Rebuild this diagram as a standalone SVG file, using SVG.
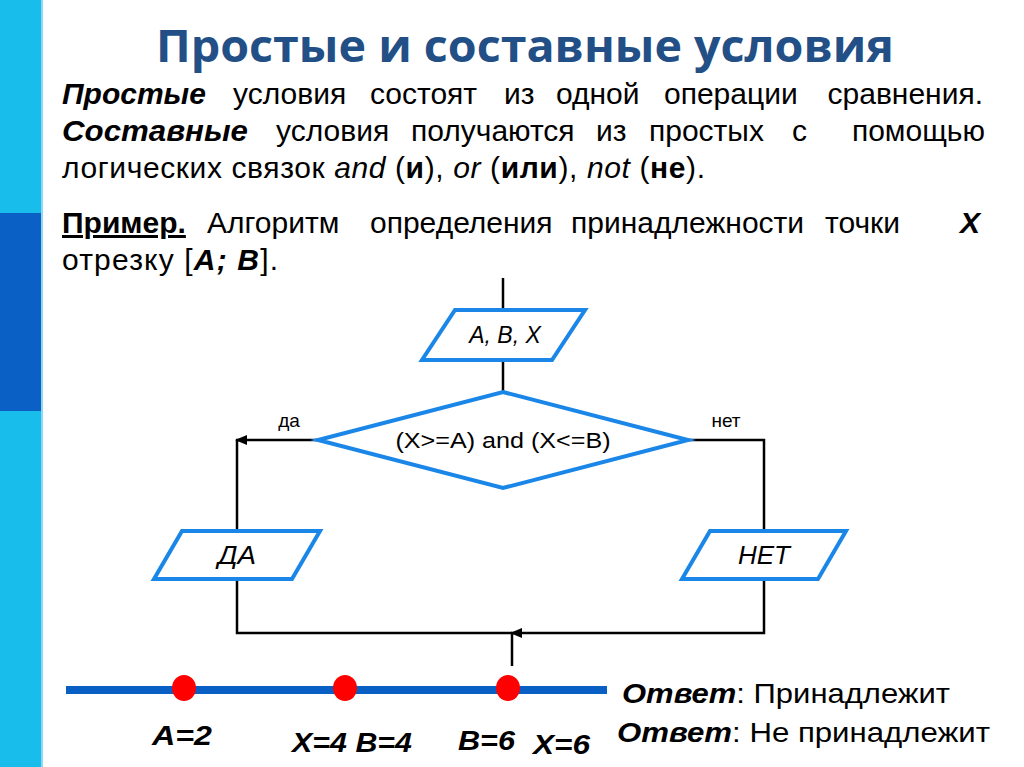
<svg xmlns="http://www.w3.org/2000/svg" width="1024" height="767" viewBox="0 0 1024 767">
<defs>
<marker id="arr" viewBox="0 0 12 10" refX="11" refY="5" markerWidth="12" markerHeight="10" orient="auto" markerUnits="userSpaceOnUse">
<path d="M0,0 L12,5 L0,10 z" fill="#000"/>
</marker>
<style>
.t{font-family:"Liberation Sans",Arial,sans-serif;font-size:30px;fill:#000}
.bi{font-weight:bold;font-style:italic}
.b{font-weight:bold}
.i{font-style:italic}
.shape{fill:#fff;stroke:#1a86e8;stroke-width:4;stroke-linejoin:miter}
.con{fill:none;stroke:#000;stroke-width:2.5}
.fc{font-family:"Liberation Sans",Arial,sans-serif;fill:#000}
.nar{font-family:"Liberation Sans Narrow","Liberation Sans",Arial,sans-serif;fill:#000}
</style>
</defs>
<rect x="0" y="0" width="1024" height="767" fill="#fff"/>
<rect x="0" y="0" width="41" height="213" fill="#19bdec"/>
<rect x="0" y="213" width="41" height="198" fill="#0a60c4"/>
<rect x="0" y="411" width="41" height="356" fill="#19bdec"/>
<rect x="41" y="0" width="2" height="767" fill="#8fd8f3"/>

<text x="525" y="62" text-anchor="middle" font-family="'Open Sans','Liberation Sans',sans-serif" font-weight="bold" font-size="44" fill="#234f87" textLength="738" lengthAdjust="spacingAndGlyphs">Простые и составные условия</text>

<g class="t">
<text x="62" y="104" class="bi">Простые</text>
<text x="233" y="104">условия</text>
<text x="370" y="104">состоят</text>
<text x="504" y="104">из</text>
<text x="556" y="104">одной</text>
<text x="664" y="104">операции</text>
<text x="983" y="104" text-anchor="end">сравнения.</text>

<text x="62" y="141" class="bi" textLength="186" lengthAdjust="spacingAndGlyphs">Составные</text>
<text x="276" y="141">условия</text>
<text x="411" y="141">получаются</text>
<text x="596" y="141">из</text>
<text x="649" y="141">простых</text>
<text x="792" y="141">с</text>
<text x="985" y="141" text-anchor="end">помощью</text>

<text x="62" y="178" textLength="643" lengthAdjust="spacing">логических связок <tspan class="i">and</tspan> (<tspan class="b">и</tspan>), <tspan class="i">or</tspan> (<tspan class="b">или</tspan>), <tspan class="i">not</tspan> (<tspan class="b">не</tspan>).</text>

<text x="62" y="233" class="b" text-decoration="underline">Пример.</text>
<text x="207" y="233">Алгоритм</text>
<text x="370" y="233">определения</text>
<text x="571" y="233">принадлежности</text>
<text x="825" y="233">точки</text>
<text x="980" y="233" class="bi" text-anchor="end">X</text>

<text x="62" y="270" textLength="216" lengthAdjust="spacing">отрезку [<tspan class="bi">A; B</tspan>].</text>
</g>

<g id="connectors">
<line class="con" x1="503" y1="278" x2="503" y2="310"/>
<line class="con" x1="503" y1="360" x2="503" y2="392"/>
<line class="con" x1="318" y1="440" x2="236" y2="440" marker-end="url(#arr)"/>
<line class="con" x1="237" y1="440" x2="237" y2="531"/>
<polyline class="con" points="688,440 764,440 764,531"/>
<polyline class="con" points="237,579 237,633 512,633"/>
<polyline class="con" points="764,579 764,633 511,633" marker-end="url(#arr)"/>
<line class="con" x1="512" y1="633" x2="512" y2="666"/>
<text class="fc" x="289" y="427" font-size="19" text-anchor="middle">да</text>
<text class="fc" x="726" y="427" font-size="19" text-anchor="middle">нет</text>
</g>

<g id="input">
<polygon class="shape" points="455,310 585,310 552,360 422,360"/>
<text class="fc i" x="505" y="343" font-size="23" text-anchor="middle">A, B, X</text>
</g>

<g id="decision">
<polygon class="shape" points="503,392 688,440 503,488 318,440"/>
<text class="fc" x="503" y="448" font-size="22" text-anchor="middle" textLength="215" lengthAdjust="spacingAndGlyphs">(X&gt;=A) and (X&lt;=B)</text>
</g>

<g id="yes">
<polygon class="shape" points="182,531 320,531 292,579 154,579"/>
<text class="nar i" x="218" y="564" font-size="26" textLength="38" lengthAdjust="spacingAndGlyphs">ДА</text>
</g>

<g id="no">
<polygon class="shape" points="710,531 846,531 818,579 682,579"/>
<text class="nar i" x="738" y="564" font-size="26" textLength="52" lengthAdjust="spacingAndGlyphs">НЕТ</text>
</g>

<g id="numberline">
<line x1="66" y1="690" x2="607" y2="690" stroke="#0a5fc4" stroke-width="8"/>
<ellipse cx="184" cy="688" rx="12" ry="13" fill="#ff0000"/>
<ellipse cx="345" cy="688" rx="12" ry="13" fill="#ff0000"/>
<ellipse cx="508" cy="688" rx="12" ry="13" fill="#ff0000"/>
</g>

<g class="nar bi" font-size="27" font-weight="bold" font-style="italic">
<text x="152" y="745" textLength="60" lengthAdjust="spacingAndGlyphs">A=2</text>
<text x="292" y="752" textLength="120" lengthAdjust="spacingAndGlyphs">X=4 B=4</text>
<text x="458" y="750" textLength="57" lengthAdjust="spacingAndGlyphs">B=6</text>
<text x="533" y="754" textLength="57" lengthAdjust="spacingAndGlyphs">X=6</text>
</g>

<g font-size="28">
<text x="622" y="703" class="fc" textLength="328" lengthAdjust="spacingAndGlyphs"><tspan class="nar" font-weight="bold" font-style="italic">Ответ</tspan>: Принадлежит</text>
<text x="617" y="742" class="fc" textLength="373" lengthAdjust="spacingAndGlyphs"><tspan class="nar" font-weight="bold" font-style="italic">Ответ</tspan>: Не принадлежит</text>
</g>
</svg>
